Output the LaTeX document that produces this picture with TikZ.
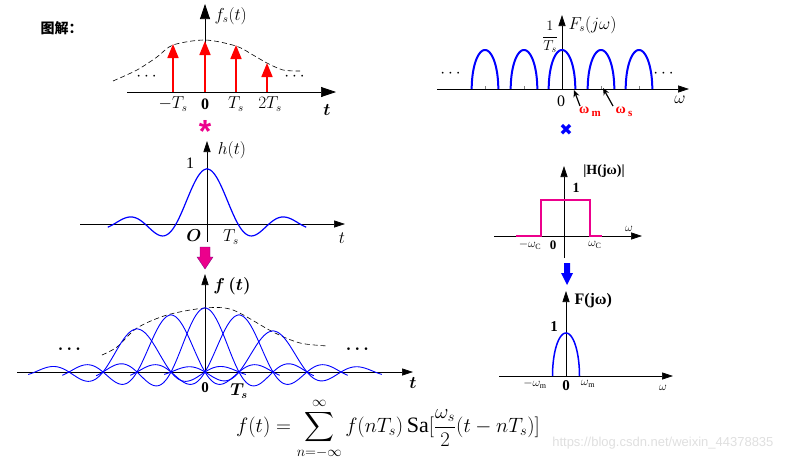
\documentclass[tikz,border=0pt]{standalone}
\usepackage{amsmath}
\usepackage{fontspec}
\setmainfont{Liberation Serif}
\setsansfont{Liberation Sans}
\newfontfamily\cjkfont{Noto Sans CJK SC}
\newfontfamily\symfont{DejaVu Sans}
\usetikzlibrary{arrows.meta,positioning}

\tikzset{
  axis/.style={line width=.6pt,-{Triangle[length=11pt,width=7pt]}},
  bigaxis/.style={line width=.7pt,-{Triangle[length=15pt,width=10pt]}},
  samp/.style={red,line width=1.7pt,-{Triangle[length=14pt,width=11pt]}},
  spec/.style={blue,line width=2pt},
  wave/.style={blue,line width=.9pt},
  env/.style={line width=.6pt,dash pattern=on 5pt off 3pt},
  ptr/.style={line width=1.2pt,-{Stealth[length=7pt,width=6pt]}},
  lbl/.style={font=\fontsize{16}{18}\selectfont},
  small lbl/.style={font=\fontsize{12}{14}\selectfont},
  bold lbl/.style={font=\bfseries\fontsize{15}{17}\selectfont},
  declare function={sincf(\u)=sin(180*(\u+0.0001))/(pi*(\u+0.0001));}
}

\begin{document}
\begin{tikzpicture}[x=1pt,y=-1pt]
\useasboundingbox (0,0) rectangle (785,463);

\node[anchor=west,font=\cjkfont\bfseries\fontsize{14}{14}\selectfont] (title) at (37,28) {图解：};

\coordinate (fsx0) at (127,92);
\coordinate (fsx1) at (336,92);
\coordinate (fsy0) at (205,92);
\coordinate (fsy1) at (205,4);
\draw[bigaxis] (fsx0)--(fsx1);
\draw[bigaxis] (fsy0)--(fsy1);
\draw[env] plot[smooth] coordinates {(113,81) (137,70) (157,57) (173,45) (205,40) (236,46) (253,55) (267,63) (283,70) (300,71)};
\foreach \i/\x/\y in {1/173/44,2/205/41,3/236/45,4/267/63}{
  \coordinate (p\i) at (\x,92);
  \coordinate (q\i) at (\x,\y);
  \draw[samp] (p\i)--(q\i);
}
\node[lbl] (dotsl) at (148,77) {$\cdots$};
\node[lbl] (dotsr) at (296,77) {$\cdots$};
\node[lbl,anchor=west] (fslab) at (211,16) {$f_s(t)$};
\node[lbl] (tm) at (173,104) {$-T_s$};
\node[lbl] (t0) at (205,104) {\textbf{0}};
\node[lbl] (t1) at (236,104) {$T_s$};
\node[lbl] (t2) at (270,104) {$2T_s$};
\node[lbl] (tlab) at (327,110) {$\boldsymbol{t}$};
\node[text=magenta,font=\sffamily\bfseries\fontsize{32}{32}\selectfont] (star) at (205,131) {*};

\coordinate (Fsx0) at (437,89);
\coordinate (Fsx1) at (689,89);
\coordinate (Fsy0) at (562,89);
\coordinate (Fsy1) at (562,15);
\draw[axis] (Fsx0)--(Fsx1);
\draw[axis] (Fsy0)--(Fsy1);
\foreach \c in {485,524,562,601,639}
  \draw[spec] plot[domain=180:0,samples=40,variable=\a] ({\c+13.3*cos(\a)},{89-39*sin(\a)});
\foreach \c in {485,524,601,639}
  \draw[gray] (\c,89)--(\c,86);
\node[lbl] (Fdl) at (452,74) {$\cdots$};
\node[lbl] (Fdr) at (665,74) {$\cdots$};
\node[font=\fontsize{14}{16}\selectfont] (invT) at (550,37) {$\dfrac{1}{T_s}$};
\node[lbl,anchor=west] (Fslab) at (565,25) {$F_s(j\omega)$};
\node[lbl] (F0) at (561,101) {0};
\node[lbl] (Fw) at (680,100) {$\omega$};
\coordinate (wm) at (574,90);
\coordinate (wm0) at (580,106);
\coordinate (ws) at (603,88);
\coordinate (ws0) at (613,106);
\draw[ptr] (wm0)--(wm);
\draw[ptr] (ws0)--(ws);
\node[text=red,font=\bfseries\fontsize{14}{14}\selectfont] (wmlab) at (590,112) {ω\,\raisebox{-3pt}{\fontsize{11}{11}\selectfont m}};
\node[text=red,font=\bfseries\fontsize{14}{14}\selectfont] (wslab) at (624,112) {ω\,\raisebox{-3pt}{\fontsize{11}{11}\selectfont s}};
\node[text=blue,font=\symfont\fontsize{16}{16}\selectfont] (cross) at (566,130) {✖};

\coordinate (hx0) at (80,224);
\coordinate (hx1) at (345,224);
\coordinate (hy0) at (207,242);
\coordinate (hy1) at (207,141);
\draw[axis] (hx0)--(hx1);
\draw[axis] (hy0)--(hy1);
\draw[wave,line width=1.2pt] plot[domain=-3.2:3.2,samples=121] ({207+31*\x},{224-55*sincf(\x)});
\node[lbl] (hlab) at (232,150) {$h(t)$};
\node[lbl] (hone) at (190,163) {1};
\node[lbl] (hO) at (194,236) {$\boldsymbol{O}$};
\node[lbl] (hT) at (231,237) {$T_s$};
\node[lbl] (ht) at (342,238) {$t$};
\filldraw[fill=magenta,draw=violet] (200,247)--(210,247)--(210,257)--(213,257)--(205,269)--(197,257)--(200,257)--cycle;

\coordinate (Hx0) at (494,236);
\coordinate (Hx1) at (642,236);
\coordinate (Hy0) at (564,258);
\coordinate (Hy1) at (564,166);
\draw[axis] (Hx0)--(Hx1);
\draw[axis] (Hy0)--(Hy1);
\draw[magenta,line width=1.6pt] (516,236)--(541,236)--(541,200)--(590,200)--(590,236)--(602,236);
\node[font=\bfseries\fontsize{14}{16}\selectfont] (Hlab) at (604,171) {|H(jω)|};
\node[font=\bfseries\fontsize{14}{16}\selectfont] (Hone) at (576,188) {1};
\node[small lbl] (Hwl) at (530,245) {$-\omega_{\mathrm{C}}$};
\node[font=\bfseries\fontsize{13}{15}\selectfont] (H0) at (553,245) {0};
\node[small lbl] (Hwr) at (595,245) {$\omega_{\mathrm{C}}$};
\node[small lbl] (Hw) at (629,229) {$\omega$};
\fill[blue] (564,263)--(570,263)--(570,273)--(573,273)--(567,285)--(561,273)--(564,273)--cycle;

\coordinate (ftx0) at (17,372);
\coordinate (ftx1) at (413,372);
\coordinate (fty0) at (205,372);
\coordinate (fty1) at (205,274);
\draw[axis] (ftx0)--(ftx1);
\draw[axis] (fty0)--(fty1);
\draw[env] plot[smooth] coordinates {(102,355) (117,347) (137,328) (167,315) (205,308) (233,310) (273,332) (300,343) (328,346)};
\foreach \c/\A in {137/43,171/57,205/64,239/57,273/41}
  \draw[wave] plot[domain=-3.2:3.2,samples=121] ({\c+34*\x},{372-\A*sincf(\x)});
\node[lbl] (ftdl) at (71,349) {$\boldsymbol{\cdots}$};
\node[lbl] (ftdr) at (359,349) {$\boldsymbol{\cdots}$};
\node[font=\fontsize{18}{20}\selectfont] (ftlab) at (232,286) {$\boldsymbol{f\,(t)}$};
\node[bold lbl] (ft0) at (205,388) {0};
\node[lbl,inner sep=1pt] (ftT) at (239,391) {$\boldsymbol{T_s}$};
\node[lbl] (ftt) at (413,383) {$\boldsymbol{t}$};

\coordinate (Fx0) at (499,376);
\coordinate (Fx1) at (673,376);
\coordinate (Fy0) at (566,376);
\coordinate (Fy1) at (566,291);
\draw[axis] (Fx0)--(Fx1);
\draw[axis] (Fy0)--(Fy1);
\draw[spec,line width=1.5pt] plot[domain=180:0,samples=40,variable=\a] ({566+13.5*cos(\a)},{376-43*sin(\a)});
\node[font=\bfseries\fontsize{16}{18}\selectfont,anchor=west] (Flab) at (571,301) {F(jω)};
\node[bold lbl] (Fone) at (554,327) {1};
\node[small lbl] (Fwl) at (535,384) {$-\omega_{\mathrm{m}}$};
\node[bold lbl] (F0b) at (566,386) {0};
\node[small lbl] (Fwr) at (588,384) {$\omega_{\mathrm{m}}$};
\node[small lbl] (Fw) at (663,388) {$\omega$};

\node[font=\fontsize{22}{24}\selectfont,inner sep=0pt] (formula) at (388,429) {$f(t)=\displaystyle\sum_{n=-\infty}^{\infty} f(nT_s)\,\mathrm{Sa}[\frac{\omega_s}{2}(t-nT_s)]$};
\node[text=gray!25,font=\sffamily\fontsize{13}{13}\selectfont,anchor=east] (mark) at (777,443) {https://blog.csdn.net/weixin\_44378835};
\end{tikzpicture}
\end{document}
